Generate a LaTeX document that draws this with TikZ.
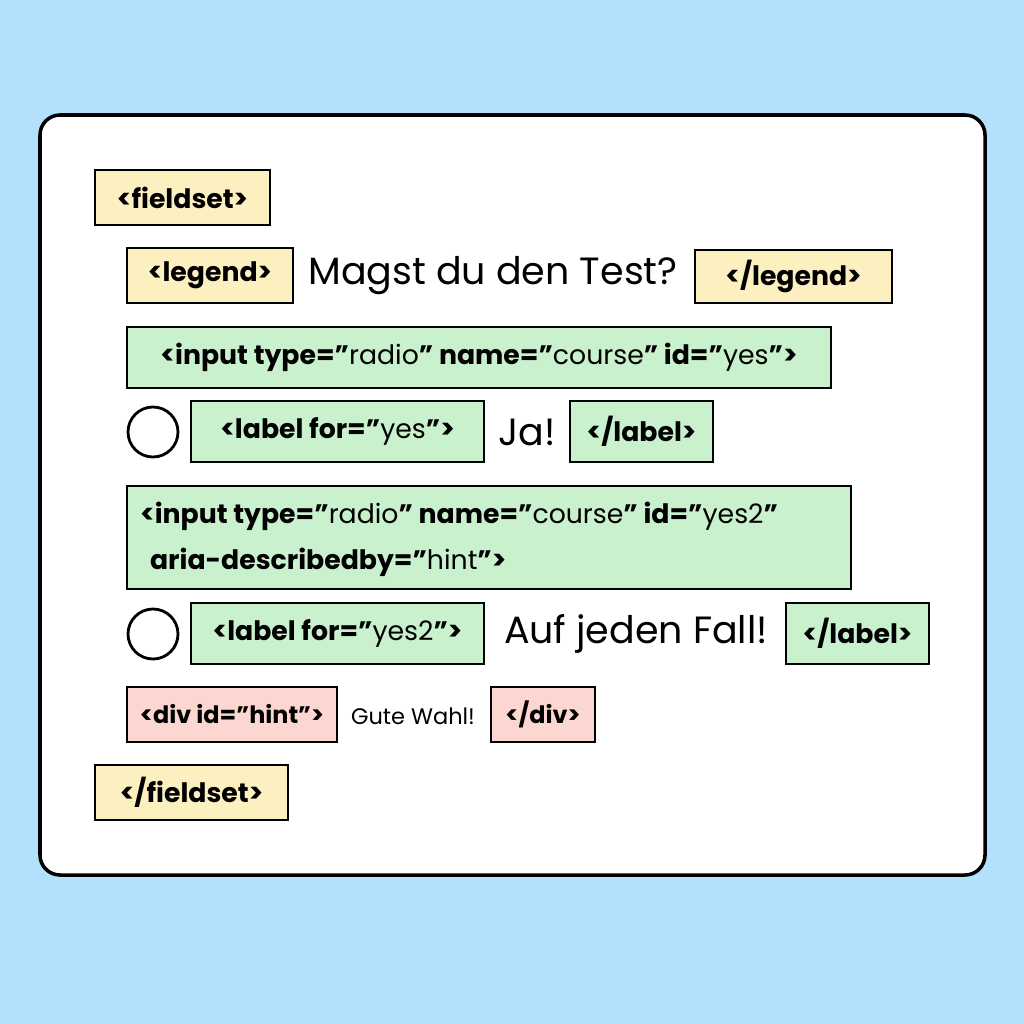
\documentclass[tikz,border=0pt]{standalone}
\usepackage{fontspec}
\setmainfont{Poppins}
\begin{document}
\begin{tikzpicture}[x=0.025cm,y=-0.025cm,line width=2pt,
  tf/.style={font=\fontsize{19}{22}\selectfont},
  tb/.style={font=\fontsize{19}{22}\selectfont\bfseries},
  big/.style={font=\fontsize{27}{32}\selectfont},
  rad/.style={draw,circle,minimum size=1.25cm,inner sep=0pt}]
\definecolor{bg}{HTML}{B3E1FD}\definecolor{yel}{HTML}{FDF0C0}
\definecolor{grn}{HTML}{C9F1CD}\definecolor{pnk}{HTML}{FCD6D1}
\fill[bg] (0,0) rectangle (1024,1024);
\useasboundingbox (0,0) rectangle (1024,1024);
\draw[fill=white,rounded corners=0.5cm,line width=2.5pt] (40,115) rectangle (985,875);
\draw[fill=yel] (95,170) rectangle (270,225) node[midway,tb] (fs) {<fieldset>};
\draw[fill=yel] (127,248) rectangle (293,303) node[midway,tb] (lg) {<legend>};
\node[big] (q) at (493,276) {Magst du den Test?};
\draw[fill=yel] (695,250) rectangle (892,303) node[midway,tb] (lge) {</legend>};
\draw[fill=grn] (127,327) rectangle (831,388) node[midway,tf] (in1) {\textbf{<input type=”}radio\textbf{” name=”}course\textbf{” id=”}yes\textbf{”>}};
\node[rad] (r1) at (153,432) {};
\draw[fill=grn] (191,401) rectangle (484,462) node[midway,tf] (l1) {\textbf{<label for=”}yes\textbf{”>}};
\node[big] (ja) at (527,432) {Ja!};
\draw[fill=grn] (570,401) rectangle (713,462) node[midway,tb] (l1e) {</label>};
\draw[fill=grn] (127,486) rectangle (851,589);
\node[anchor=west,tf] (in2a) at (134,516) {\textbf{<input type=”}radio\textbf{” name=”}course\textbf{” id=”}yes2\textbf{”}};
\node[anchor=west,tf] (in2b) at (144,562) {\textbf{aria-describedby=”}hint\textbf{”>}};
\node[rad] (r2) at (153,634) {};
\draw[fill=grn] (191,603) rectangle (484,664) node[midway,tf] (l2) {\textbf{<label for=”}yes2\textbf{”>}};
\node[big] (auf) at (636,634) {Auf jeden Fall!};
\draw[fill=grn] (786,603) rectangle (929,664) node[midway,tb] (l2e) {</label>};
\draw[fill=pnk] (127,687) rectangle (337,742) node[midway,font=\fontsize{17}{20}\selectfont\bfseries] (dv) {<div id=”hint”>};
\node[font=\fontsize{16}{19}\selectfont] (gw) at (413,716) {Gute Wahl!};
\draw[fill=pnk] (491,687) rectangle (595,742) node[midway,font=\fontsize{17}{20}\selectfont\bfseries] (dve) {</div>};
\draw[fill=yel] (95,765) rectangle (288,820) node[midway,tb] (fse) {</fieldset>};
\end{tikzpicture}
\end{document}
